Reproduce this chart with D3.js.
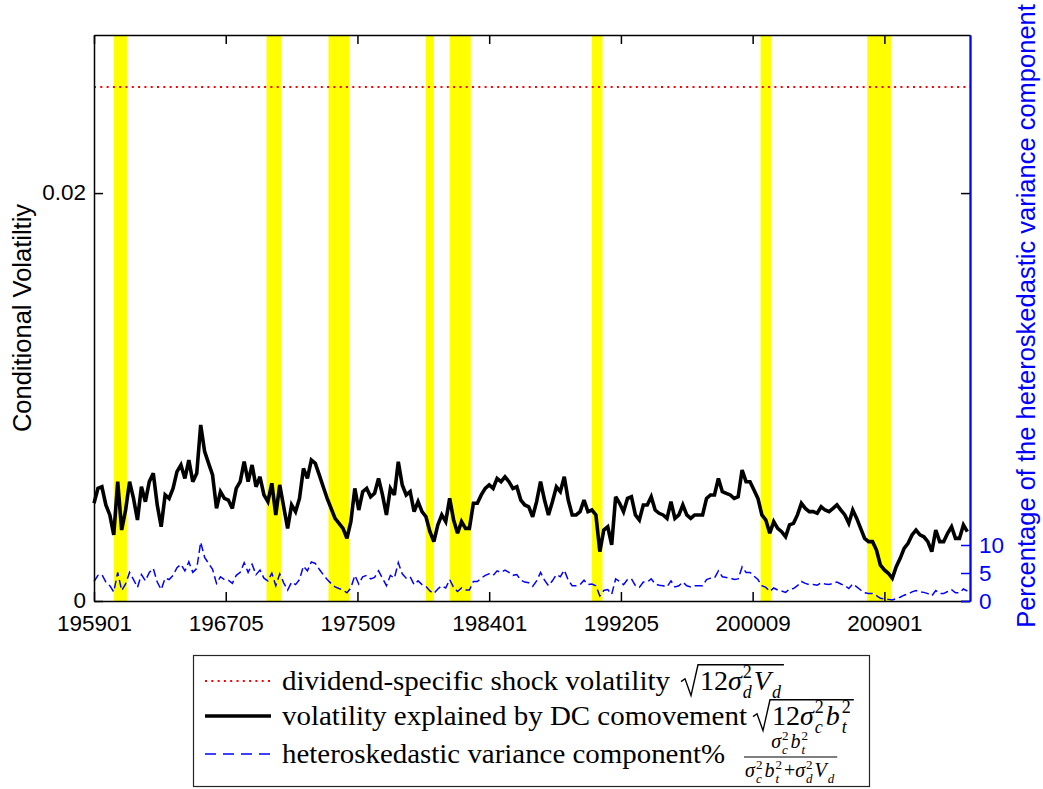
<!DOCTYPE html>
<html><head><meta charset="utf-8">
<script src="https://cdnjs.cloudflare.com/ajax/libs/d3/7.8.5/d3.min.js"></script>
<style>body{margin:0;background:#fff}svg{display:block}</style>
</head><body>
<svg id="chart" width="1043" height="789"></svg>
<script>
// ---------------- data ----------------
const xTickLabels = ["195901","196705","197509","198401","199205","200009","200901"];
const yTickValues = [0, 0.02];
const yTickLabels = ["0", "0.02"];
const y2TickValues = [0, 5, 10];
const y2TickLabels = ["0", "5", "10"];
const recessionStart = ["196004","196912","197311","198001","198107","199007","200103","200712"];
const recessionEnd   = ["196102","197011","197503","198007","198211","199103","200111","200906"];
const seriesStart = "195901";      // first observation
const seriesStepMonths = 3;        // sampling step of the series below
const dividendShockVol = 0.0252;   // sqrt(12 sigma_d^2 V_d), constant
const volatilityDC = [
0.00479,0.00552,0.00560,0.00471,0.00422,0.00324,0.00585,0.00348,0.00446,0.00585,
0.00503,0.00397,0.00560,0.00487,0.00585,0.00626,0.00471,0.00364,0.00520,0.00503,
0.00552,0.00634,0.00667,0.00601,0.00691,0.00585,0.00626,0.00863,0.00732,0.00675,
0.00618,0.00454,0.00536,0.00503,0.00495,0.00454,0.00552,0.00585,0.00683,0.00585,
0.00667,0.00560,0.00609,0.00520,0.00487,0.00577,0.00422,0.00569,0.00462,0.00356,
0.00471,0.00438,0.00503,0.00650,0.00601,0.00691,0.00675,0.00618,0.00560,0.00503,
0.00454,0.00405,0.00381,0.00356,0.00307,0.00389,0.00552,0.00446,0.00536,0.00552,
0.00511,0.00528,0.00601,0.00520,0.00422,0.00552,0.00520,0.00683,0.00569,0.00520,
0.00536,0.00438,0.00487,0.00438,0.00413,0.00340,0.00291,0.00373,0.00422,0.00389,
0.00503,0.00397,0.00332,0.00389,0.00356,0.00356,0.00479,0.00479,0.00520,0.00552,
0.00569,0.00552,0.00601,0.00585,0.00609,0.00585,0.00552,0.00560,0.00495,0.00471,
0.00462,0.00413,0.00487,0.00585,0.00495,0.00422,0.00487,0.00560,0.00536,0.00609,
0.00495,0.00422,0.00422,0.00438,0.00495,0.00438,0.00446,0.00422,0.00242,0.00348,
0.00364,0.00275,0.00511,0.00479,0.00438,0.00503,0.00511,0.00422,0.00397,0.00471,
0.00471,0.00511,0.00446,0.00430,0.00422,0.00405,0.00487,0.00405,0.00422,0.00471,
0.00422,0.00405,0.00422,0.00422,0.00422,0.00503,0.00520,0.00520,0.00601,0.00536,
0.00528,0.00520,0.00503,0.00511,0.00642,0.00585,0.00585,0.00544,0.00503,0.00422,
0.00397,0.00332,0.00389,0.00356,0.00340,0.00315,0.00373,0.00381,0.00422,0.00479,
0.00454,0.00438,0.00438,0.00430,0.00462,0.00446,0.00438,0.00454,0.00471,0.00446,
0.00422,0.00381,0.00446,0.00405,0.00356,0.00307,0.00291,0.00291,0.00250,0.00176,
0.00152,0.00136,0.00111,0.00168,0.00209,0.00258,0.00283,0.00324,0.00348,0.00324,
0.00315,0.00291,0.00242,0.00348,0.00291,0.00291,0.00332,0.00364,0.00307,0.00307,
0.00373,0.00340];
const heteroPct = [
3.48,4.58,4.71,3.38,2.73,1.63,5.11,1.87,3.04,5.11,
3.83,2.43,4.71,3.60,5.11,5.81,3.38,2.04,4.08,3.83,
4.58,5.95,6.55,5.38,6.99,5.11,5.81,10.5,7.78,6.70,
5.67,3.14,4.33,3.83,3.71,3.14,4.58,5.11,6.84,5.11,
6.55,4.71,5.52,4.08,3.60,4.98,2.73,4.85,3.25,1.96,
3.38,2.93,3.83,6.24,5.38,6.99,6.70,5.67,4.71,3.83,
3.14,2.52,2.23,1.96,1.46,2.32,4.58,3.04,4.33,4.58,
3.95,4.21,5.38,4.08,2.73,4.58,4.08,6.84,4.85,4.08,
4.33,2.93,3.60,2.93,2.62,1.79,1.32,2.14,2.73,2.32,
3.83,2.43,1.70,2.32,1.96,1.96,3.48,3.48,4.08,4.58,
4.85,4.58,5.38,5.11,5.52,5.11,4.58,4.71,3.71,3.38,
3.25,2.62,3.60,5.11,3.71,2.73,3.60,4.71,4.33,5.52,
3.71,2.73,2.73,2.93,3.71,2.93,3.04,2.73,0.91,1.87,
2.04,1.18,3.95,3.48,2.93,3.83,3.95,2.73,2.43,3.38,
3.38,3.95,3.04,2.83,2.73,2.52,3.60,2.52,2.73,3.38,
2.73,2.52,2.73,2.73,2.73,3.83,4.08,4.08,5.38,4.33,
4.21,4.08,3.83,3.95,6.09,5.11,5.11,4.45,3.83,2.73,
2.43,1.70,2.32,1.96,1.79,1.54,2.14,2.23,2.73,3.48,
3.14,2.93,2.93,2.83,3.25,3.04,2.93,3.14,3.38,3.04,
2.73,2.23,3.04,2.52,1.96,1.46,1.32,1.32,0.97,0.49,
0.36,0.29,0.19,0.44,0.68,1.04,1.25,1.63,1.87,1.63,
1.54,1.32,0.91,1.87,1.32,1.32,1.70,2.04,1.46,1.46,
2.14,1.79];
const xEndLabel = "201406";
const yMax = 0.02775;
const y2Max = 101.07;
const legendLabels = ["dividend-specific shock volatility",
                      "volatility explained by DC comovement",
                      "heteroskedastic variance component%"];

// ---------------- helpers ----------------
const monthIndex = s => (+s.slice(0,4) - +seriesStart.slice(0,4))*12 + (+s.slice(4,6) - +seriesStart.slice(4,6));
const obsMonth = i => i*seriesStepMonths;

const L = 94, R = 970, T = 35, B = 601;
const svg = d3.select("#chart");
const x = d3.scaleLinear().domain([0, monthIndex(xEndLabel)]).range([L, R]);
const y = d3.scaleLinear().domain([0, yMax]).range([B, T]);
const y2 = d3.scaleLinear().domain([0, y2Max]).range([B, T]);

const sans = "'Liberation Sans', Arial, Helvetica, sans-serif";
const serif = "'Liberation Serif', 'Times New Roman', serif";

// recession bands
svg.append("g").selectAll("rect")
  .data(recessionStart.map((s,i)=>({s:monthIndex(s), e:monthIndex(recessionEnd[i])})))
  .join("rect")
  .attr("x", d=>x(d.s)).attr("width", d=>x(d.e)-x(d.s))
  .attr("y", y(yMax)).attr("height", y(0)-y(yMax))
  .attr("fill", "#ffff00");

// red dotted constant line
svg.append("path")
  .datum([0, monthIndex(xEndLabel)])
  .attr("d", d3.line().x(d=>x(d)).y(()=>y(dividendShockVol)))
  .attr("fill","none").attr("stroke","#ff0000").attr("stroke-width",2)
  .attr("stroke-dasharray","2,4.3");

// blue dashed heteroskedastic %
svg.append("path")
  .datum(heteroPct)
  .attr("d", d3.line().x((d,i)=>x(obsMonth(i))).y(d=>y2(d)))
  .attr("fill","none").attr("stroke","#0000ff").attr("stroke-width",1.5)
  .attr("stroke-dasharray","8,4");

// black volatility line
svg.append("path")
  .datum(volatilityDC)
  .attr("d", d3.line().x((d,i)=>x(obsMonth(i))).y(d=>y(d)))
  .attr("fill","none").attr("stroke","#000").attr("stroke-width",3.6)
  .attr("stroke-linejoin","miter").attr("stroke-miterlimit",3);

// ---------------- axes ----------------
const TFS = 22.5;
function styleAxis(g, color){
  g.selectAll("path.domain").attr("stroke", color).attr("stroke-width", 1.5);
  g.selectAll(".tick line").attr("stroke", color).attr("stroke-width", 1.5);
  g.selectAll(".tick text").attr("fill", color).style("font-family", sans).style("font-size", TFS+"px");
}
const xTickVals = xTickLabels.map(monthIndex);
const gTop = svg.append("g").attr("transform",`translate(0,${T})`)
  .call(d3.axisTop(x).tickValues(xTickVals).tickFormat("").tickSizeInner(-9).tickSizeOuter(0));
styleAxis(gTop, "#000");
const gRm = svg.append("g").attr("transform",`translate(${R},0)`)
  .call(d3.axisRight(y).tickValues(yTickValues).tickFormat("").tickSizeInner(-9).tickSizeOuter(0));
styleAxis(gRm, "#000");
const gX = svg.append("g").attr("transform",`translate(0,${B})`)
  .call(d3.axisBottom(x).tickValues(xTickVals).tickFormat((d,i)=>xTickLabels[i]).tickSizeInner(-9).tickSizeOuter(0).tickPadding(14));
styleAxis(gX, "#000");
const gY = svg.append("g").attr("transform",`translate(${L},0)`)
  .call(d3.axisLeft(y).tickValues(yTickValues).tickFormat((d,i)=>yTickLabels[i]).tickSizeInner(-9).tickSizeOuter(0).tickPadding(8));
styleAxis(gY, "#000");
gY.selectAll(".tick text").attr("dy","0.3em");
const gY2 = svg.append("g").attr("transform",`translate(${R},0)`)
  .call(d3.axisRight(y2).tickValues(y2TickValues).tickFormat((d,i)=>y2TickLabels[i]).tickSizeInner(-9).tickSizeOuter(0).tickPadding(9));
styleAxis(gY2, "#0000ff");
gY2.select("path.domain").attr("stroke-width", 2);

// axis titles
svg.append("text").attr("transform",`translate(31,318) rotate(-90)`)
  .attr("text-anchor","middle").style("font-family",sans).style("font-size","25.5px")
  .attr("fill","#000").text("Conditional Volatiltiy");
svg.append("text").attr("transform",`translate(1035,316) rotate(-90)`)
  .attr("text-anchor","middle").style("font-family",sans).style("font-size","25.5px")
  .attr("fill","#0000ff").text("Percentage of the heteroskedastic variance component");

// ---------------- legend ----------------
const lg = svg.append("g");
lg.append("rect").attr("x",193.5).attr("y",655.5).attr("width",676).attr("height",131)
  .attr("fill","#fff").attr("stroke","#262626").attr("stroke-width",1.2);

const legendStyle = [
  {y:681, stroke:"#ff0000", w:2, dash:"2,4.3", len:388, gap:11},
  {y:716, stroke:"#000", w:3.6, dash:null, len:465, gap:6},
  {y:754, stroke:"#0000ff", w:1.5, dash:"11,7", len:443, gap:20}
];
function txt(g, x0, yb, t, size, italic, len){
  const el = g.append("text").attr("x",x0).attr("y",yb)
    .style("font-family",serif).style("font-size",size+"px")
    .style("font-style", italic ? "italic" : "normal").attr("fill","#000").text(t);
  if (len){ el.attr("textLength",len).attr("lengthAdjust","spacingAndGlyphs"); return len; }
  return el.node().getComputedTextLength();
}
function mathRun(g, x0, yb, items, base){
  let xx = x0;
  items.forEach(it=>{
    if (it.sup !== undefined || it.sub !== undefined){
      const s = it.s;
      let w1=0,w2=0;
      if (it.sup) w1 = txt(g, xx+1, yb - base*0.42, it.sup, s, false);
      if (it.sub) w2 = txt(g, xx+1, yb + base*0.3, it.sub, s, true);
      xx += Math.max(w1,w2)+3;
    } else {
      xx += txt(g, xx, yb, it.t, it.s, it.it) + (it.pad||0);
    }
  });
  return xx;
}
function radical(g, x0, yb, items, base){
  const cont = g.append("g");
  const start = x0 + 19;
  const end = mathRun(cont, start, yb, items, base);
  const top = yb - base*0.9;
  g.append("path")
    .attr("d", `M${x0},${yb-base*0.3} L${x0+4},${yb-base*0.4} L${x0+10},${yb+base*0.2} L${x0+17},${top} L${end+1},${top}`)
    .attr("fill","none").attr("stroke","#000").attr("stroke-width",1.4);
}

const MF = 28, SF = 18;
legendLabels.forEach((label,i)=>{
  const r = legendStyle[i];
  lg.append("line").attr("x1",205).attr("x2",271).attr("y1",r.y).attr("y2",r.y)
    .attr("stroke",r.stroke).attr("stroke-width",r.w).attr("stroke-dasharray",r.dash);
  const yb = r.y + 9;
  const w = txt(lg, 282, yb, label, 27, false, r.len);
  const mx = 282 + w + r.gap;
  if (i===0){
    radical(lg, mx, yb, [{t:"12",s:MF},{t:"σ",s:MF,it:true},{sup:"2",sub:"d",s:SF},{t:"V",s:MF,it:true},{sub:"d",s:SF}], MF);
  } else if (i===1){
    radical(lg, mx, yb, [{t:"12",s:MF},{t:"σ",s:MF,it:true},{sup:"2",sub:"c",s:SF},{t:"b",s:MF,it:true,pad:1},{sup:"2",sub:"t",s:SF}], MF);
  } else {
    const fs = 20, ss = 13, fx = mx;
    const den = lg.append("g");
    const dEnd = mathRun(den, fx, r.y+23, [{t:"σ",s:fs,it:true},{sup:"2",sub:"c",s:ss},{t:"b",s:fs,it:true},{sup:"2",sub:"t",s:ss},{t:"+",s:fs},{t:"σ",s:fs,it:true},{sup:"2",sub:"d",s:ss},{t:"V",s:fs,it:true},{sub:"d",s:ss}], fs);
    const num = lg.append("g");
    const nEnd = mathRun(num, fx, r.y-6, [{t:"σ",s:fs,it:true},{sup:"2",sub:"c",s:ss},{t:"b",s:fs,it:true},{sup:"2",sub:"t",s:ss}], fs);
    num.attr("transform",`translate(${((dEnd-fx)-(nEnd-fx))/2},0)`);
    lg.append("line").attr("x1",fx-1).attr("x2",dEnd+1).attr("y1",r.y+3).attr("y2",r.y+3)
      .attr("stroke","#000").attr("stroke-width",1.2);
  }
});
</script>
</body></html>
